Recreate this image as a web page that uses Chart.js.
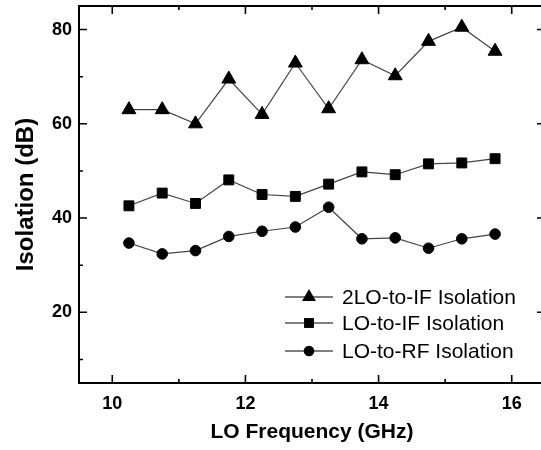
<!DOCTYPE html>
<html>
<head>
<meta charset="utf-8">
<script src="https://cdn.jsdelivr.net/npm/chart.js@4"></script>
<style>
html,body{margin:0;padding:0;background:#fff;overflow:hidden;}
#wrap{width:548px;height:450px;}
</style>
</head>
<body>
<div id="wrap"><canvas id="c" width="548" height="450"></canvas></div>
<script>
const frequencies = [10.25, 10.75, 11.25, 11.75, 12.25, 12.75, 13.25, 13.75, 14.25, 14.75, 15.25, 15.75];
const lo2ToIf = [63.0, 63.0, 60.0, 69.5, 62.0, 72.9, 63.2, 73.6, 70.2, 77.5, 80.5, 75.4];
const loToIf = [42.6, 45.3, 43.1, 48.1, 45.0, 44.6, 47.2, 49.8, 49.2, 51.5, 51.7, 52.6];
const loToRf = [34.7, 32.4, 33.1, 36.1, 37.2, 38.1, 42.3, 35.6, 35.8, 33.6, 35.6, 36.6];
const seriesLabels = ['2LO-to-IF Isolation', 'LO-to-IF Isolation', 'LO-to-RF Isolation'];
const xMajorTicks = [10, 12, 14, 16];
const xMinorTicks = [11, 13, 15];
const yMajorTicks = [20, 40, 60, 80];
const yMinorTicks = [10, 30, 50, 70];

function pts(vals){ return frequencies.map((f,i)=>({x:f, y:vals[i]})); }

const boxPlugin = {
  id:'boxTicks',
  afterDatasetsDraw(chart){
    const {ctx, chartArea:a, scales:{x,y}} = chart;
    ctx.save();
    ctx.strokeStyle='#000';
    ctx.lineWidth=2;
    ctx.strokeRect(a.left, a.top, a.right-a.left, a.bottom-a.top);
    ctx.lineWidth=1.6;
    ctx.beginPath();
    const tick=(v,len,isX)=>{
      if(isX){
        const px=x.getPixelForValue(v);
        ctx.moveTo(px,a.bottom); ctx.lineTo(px,a.bottom-len);
        ctx.moveTo(px,a.top); ctx.lineTo(px,a.top+len);
      } else {
        const py=y.getPixelForValue(v);
        ctx.moveTo(a.left,py); ctx.lineTo(a.left+len,py);
        ctx.moveTo(a.right,py); ctx.lineTo(a.right-len,py);
      }
    };
    xMajorTicks.forEach(v=>tick(v,8,true));
    xMinorTicks.forEach(v=>tick(v,4,true));
    yMajorTicks.forEach(v=>tick(v,8,false));
    yMinorTicks.forEach(v=>tick(v,4,false));
    ctx.stroke();
    ctx.restore();
  }
};

function marker(ctx, style, r, cx, cy){
  ctx.beginPath();
  if(style==='triangle'){
    for(let k=0;k<3;k++){
      const ang=k*2*Math.PI/3;
      const px=cx+Math.sin(ang)*r, py=cy-Math.cos(ang)*r;
      k?ctx.lineTo(px,py):ctx.moveTo(px,py);
    }
    ctx.closePath();
  } else if(style==='rect'){
    const s=r*Math.SQRT1_2;
    ctx.rect(cx-s,cy-s,2*s,2*s);
  } else {
    ctx.arc(cx,cy,r,0,Math.PI*2);
  }
  ctx.fill();
}

const legendPlugin = {
  id:'customLegend',
  afterDraw(chart){
    const {ctx, chartArea:a} = chart;
    ctx.save();
    const x0=a.left+206, x1=a.left+254, tx=a.left+263;
    const rows=[a.top+291, a.top+317, a.top+345];
    chart.data.datasets.forEach((ds,i)=>{
      const yy=rows[i];
      ctx.strokeStyle='#000'; ctx.lineWidth=1.2;
      ctx.beginPath(); ctx.moveTo(x0,yy); ctx.lineTo(x1,yy); ctx.stroke();
      ctx.fillStyle='#000';
      marker(ctx, ds.pointStyle, ds.pointRadius, (x0+x1)/2, yy);
      ctx.font='21px "Liberation Sans", Arial, sans-serif';
      ctx.textBaseline='middle';
      ctx.fillText(ds.label, tx, yy+1);
    });
    ctx.restore();
  }
};

const common = {borderColor:'#444', borderWidth:1.2, backgroundColor:'#000', pointBackgroundColor:'#000', pointBorderColor:'#000', pointBorderWidth:1, tension:0, fill:false};

new Chart(document.getElementById('c'), {
  type:'line',
  data:{datasets:[
    Object.assign({label:seriesLabels[0], data:pts(lo2ToIf), pointStyle:'triangle', pointRadius:8}, common),
    Object.assign({label:seriesLabels[1], data:pts(loToIf), pointStyle:'rect', pointRadius:7}, common),
    Object.assign({label:seriesLabels[2], data:pts(loToRf), pointStyle:'circle', pointRadius:5.3}, common)
  ]},
  options:{
    responsive:false, animation:false,
    layout:{autoPadding:false, padding:{left:0, top:6, right:3, bottom:0}},
    plugins:{legend:{display:false}, tooltip:{enabled:false}},
    scales:{
      x:{type:'linear', min:9.5, max:16.5,
        afterBuildTicks:s=>{s.ticks=xMajorTicks.map(v=>({value:v}));},
        afterFit:s=>{s.height=67; s.paddingLeft=0; s.paddingRight=0;},
        grid:{display:false, drawTicks:false}, border:{display:false},
        ticks:{color:'#000', padding:10, font:{family:'"Liberation Sans", Arial, sans-serif', size:18, weight:'bold'}, maxRotation:0},
        title:{display:true, text:'LO Frequency (GHz)', color:'#000', padding:{top:0,bottom:5}, font:{family:'"Liberation Sans", Arial, sans-serif', size:21, weight:'bold'}}
      },
      y:{type:'linear', min:5, max:85,
        afterBuildTicks:s=>{s.ticks=yMajorTicks.map(v=>({value:v}));},
        afterFit:s=>{s.width=79; s.paddingTop=0; s.paddingBottom=0;},
        grid:{display:false, drawTicks:false}, border:{display:false},
        ticks:{color:'#000', padding:7, font:{family:'"Liberation Sans", Arial, sans-serif', size:18, weight:'bold'}},
        title:{display:true, text:'Isolation (dB)', color:'#000', padding:{top:12,bottom:0}, font:{family:'"Liberation Sans", Arial, sans-serif', size:24, weight:'bold'}}
      }
    }
  },
  plugins:[boxPlugin, legendPlugin]
});
</script>
</body>
</html>
